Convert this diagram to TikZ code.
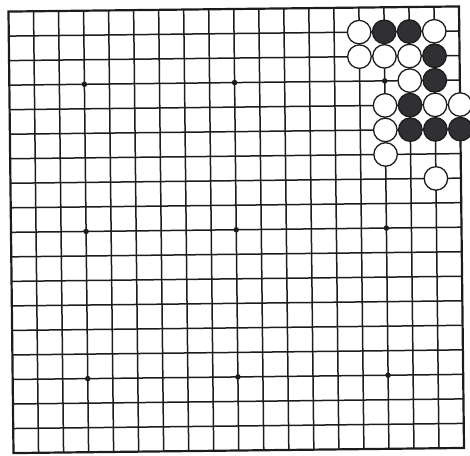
\documentclass[tikz,border=0pt]{standalone}
\usepackage{tikz}
\usetikzlibrary{calc}
\definecolor{stoneblack}{RGB}{48,48,52}
\definecolor{boardline}{RGB}{28,28,28}
\tikzset{
  gline/.style  ={line width=1.5pt, boardline},
  gborder/.style={line width=2.2pt, boardline, line join=miter},
  hoshi/.style  ={circle, fill=boardline, minimum size=5.5pt, inner sep=0pt},
  wstone/.style ={circle, draw=boardline, fill=white, line width=1.3pt,
                  minimum size=23.5pt, inner sep=0pt},
  bstone/.style ={wstone, fill=stoneblack},
}

\begin{document}
\begin{tikzpicture}
\useasboundingbox (0,0) rectangle (470pt,-455pt);
\begin{scope}[shift={(236.25pt,-229.75pt)}, rotate=0.65, x=25.03pt, y=-24.53pt]
  % grid
  \foreach \i in {1,...,17} {
    \draw[gline] (\i-9,-9) -- (\i-9,9);
    \draw[gline] (-9,\i-9) -- (9,\i-9);
  }
  \draw[gborder] (-9,-9) rectangle (9,9);
  \foreach \c in {3,9,15} \foreach \r in {3,9,15}
    \node[hoshi] (h-\c-\r) at (\c-9,\r-9) {};
  % stones
  \foreach \c/\r in {14/1,17/1,14/2,15/2,16/2,16/3,15/4,17/4,18/4,15/5,15/6,17/7}
    \node[wstone] (w-\c-\r) at (\c-9,\r-9) {};
  \foreach \c/\r in {15/1,16/1,17/2,17/3,16/4,16/5,17/5,18/5}
    \node[bstone] (b-\c-\r) at (\c-9,\r-9) {};
\end{scope}
\end{tikzpicture}
\end{document}
